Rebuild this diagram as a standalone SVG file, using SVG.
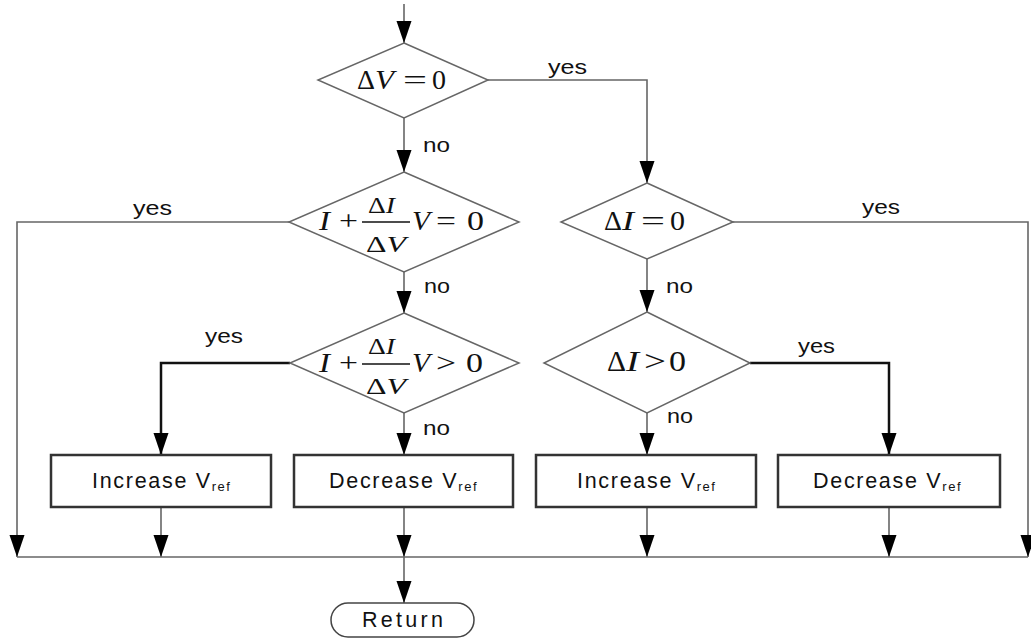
<svg xmlns="http://www.w3.org/2000/svg" width="1031" height="638" viewBox="0 0 1031 638">
<style>
.dia{fill:#fff;stroke:#666;stroke-width:1.5}
.box{fill:#fff;stroke:#333;stroke-width:2.5}
.ln{fill:none;stroke:#666;stroke-width:1.6}
.thk{fill:none;stroke:#111;stroke-width:2.5}
.lbl{font-family:"Liberation Sans",Arial,sans-serif;font-size:20px;fill:#111}
.btx{font-family:"Liberation Sans",Arial,sans-serif;font-size:21.5px;fill:#111;letter-spacing:1.7px}
.sub{font-size:13px;letter-spacing:1.5px}
.m{font-family:"Liberation Serif","Times New Roman",serif;font-size:27px;fill:#111}
.mi{font-style:italic}
.ms{font-size:23px}
.mb{font-size:29px}
</style>
<defs>
<marker id="ah" markerUnits="userSpaceOnUse" markerWidth="23" markerHeight="16" refX="22" refY="8" orient="auto">
<path d="M0,0.5 L22,8 L0,15.5 z" fill="#000"/>
</marker>
</defs>

<g id="connectors">
<path class="ln" d="M404,4 V43" marker-end="url(#ah)"/>
<path class="ln" d="M404,118 V172" marker-end="url(#ah)"/>
<path class="ln" d="M488,80 H647 V183" marker-end="url(#ah)"/>
<path class="ln" d="M404,272 V313" marker-end="url(#ah)"/>
<path class="ln" d="M289,222 H17 V557" marker-end="url(#ah)"/>
<path class="ln" d="M733,222 H1028 V557" marker-end="url(#ah)"/>
<path class="ln" d="M647,259 V312" marker-end="url(#ah)"/>
<path class="ln" d="M404,413 V455" marker-end="url(#ah)"/>
<path class="thk" d="M290,363 H161 V455" marker-end="url(#ah)"/>
<path class="ln" d="M647,413 V455" marker-end="url(#ah)"/>
<path class="thk" d="M750,363 H889 V455" marker-end="url(#ah)"/>
<path class="ln" d="M161,507 V557" marker-end="url(#ah)" stroke="#999"/>
<path class="ln" d="M404,507 V557" marker-end="url(#ah)"/>
<path class="ln" d="M647,507 V557" marker-end="url(#ah)"/>
<path class="ln" d="M889,507 V557" marker-end="url(#ah)"/>
<path class="ln" d="M17,557 H1028"/>
<path class="ln" d="M404,557 V603" marker-end="url(#ah)"/>
<text class="lbl" x="548" y="74" textLength="39" lengthAdjust="spacingAndGlyphs">yes</text>
<text class="lbl" x="423" y="152" textLength="27" lengthAdjust="spacingAndGlyphs">no</text>
<text class="lbl" x="133" y="215" textLength="39" lengthAdjust="spacingAndGlyphs">yes</text>
<text class="lbl" x="862" y="214" textLength="38" lengthAdjust="spacingAndGlyphs">yes</text>
<text class="lbl" x="424" y="293" textLength="26" lengthAdjust="spacingAndGlyphs">no</text>
<text class="lbl" x="666" y="293" textLength="27" lengthAdjust="spacingAndGlyphs">no</text>
<text class="lbl" x="205" y="343" textLength="38" lengthAdjust="spacingAndGlyphs">yes</text>
<text class="lbl" x="798" y="353" textLength="37" lengthAdjust="spacingAndGlyphs">yes</text>
<text class="lbl" x="667" y="423" textLength="26" lengthAdjust="spacingAndGlyphs">no</text>
<text class="lbl" x="423" y="435" textLength="27" lengthAdjust="spacingAndGlyphs">no</text>
</g>

<g id="d1">
<polygon class="dia" points="404,43 488,80 404,118 318,80"/>
<text class="m" x="357" y="89" textLength="18" lengthAdjust="spacingAndGlyphs">Δ</text>
<text class="m mi" x="375" y="89" textLength="19" lengthAdjust="spacingAndGlyphs">V</text>
<text class="m" x="403" y="89" textLength="24" lengthAdjust="spacingAndGlyphs">=</text>
<text class="m" x="432" y="89" textLength="14" lengthAdjust="spacingAndGlyphs">0</text>
</g>

<g id="d2">
<polygon class="dia" points="404,172 519,222 404,272 289,222"/>
<text class="m mi" x="319" y="230" textLength="11" lengthAdjust="spacingAndGlyphs">I</text>
<text class="m" x="339" y="230" textLength="19" lengthAdjust="spacingAndGlyphs">+</text>
<line x1="362" y1="222" x2="410" y2="222" stroke="#111" stroke-width="1.5"/>
<text class="m ms" x="368" y="213" textLength="27" lengthAdjust="spacingAndGlyphs">Δ<tspan class="mi">I</tspan></text>
<text class="m ms" x="366" y="252" textLength="40" lengthAdjust="spacingAndGlyphs">Δ<tspan class="mi">V</tspan></text>
<text class="m mi" x="412" y="230" textLength="18" lengthAdjust="spacingAndGlyphs">V</text>
<text class="m" x="436" y="230" textLength="20" lengthAdjust="spacingAndGlyphs">=</text>
<text class="m" x="467" y="230" textLength="17" lengthAdjust="spacingAndGlyphs">0</text>
</g>

<g id="d3">
<polygon class="dia" points="404,313 519,363 404,413 290,363"/>
<text class="m mi" x="319" y="372" textLength="11" lengthAdjust="spacingAndGlyphs">I</text>
<text class="m" x="339" y="372" textLength="19" lengthAdjust="spacingAndGlyphs">+</text>
<line x1="362" y1="364" x2="410" y2="364" stroke="#111" stroke-width="1.5"/>
<text class="m ms" x="368" y="354" textLength="27" lengthAdjust="spacingAndGlyphs">Δ<tspan class="mi">I</tspan></text>
<text class="m ms" x="366" y="394" textLength="40" lengthAdjust="spacingAndGlyphs">Δ<tspan class="mi">V</tspan></text>
<text class="m mi" x="412" y="372" textLength="18" lengthAdjust="spacingAndGlyphs">V</text>
<text class="m" x="436" y="372" textLength="20" lengthAdjust="spacingAndGlyphs">&gt;</text>
<text class="m" x="466" y="372" textLength="17" lengthAdjust="spacingAndGlyphs">0</text>
</g>

<g id="d4">
<polygon class="dia" points="647,183 733,222 647,259 561,222"/>
<text class="m" x="604" y="230" textLength="18" lengthAdjust="spacingAndGlyphs">Δ</text>
<text class="m mi" x="622" y="230" textLength="12" lengthAdjust="spacingAndGlyphs">I</text>
<text class="m" x="641" y="230" textLength="24" lengthAdjust="spacingAndGlyphs">=</text>
<text class="m" x="670" y="230" textLength="15" lengthAdjust="spacingAndGlyphs">0</text>
</g>

<g id="d5">
<polygon class="dia" points="647,312 750,363 647,413 544,363"/>
<text class="m mb" x="607" y="371" textLength="19" lengthAdjust="spacingAndGlyphs">Δ</text>
<text class="m mb mi" x="626" y="371" textLength="13" lengthAdjust="spacingAndGlyphs">I</text>
<text class="m mb" x="644" y="371" textLength="22" lengthAdjust="spacingAndGlyphs">&gt;</text>
<text class="m mb" x="669" y="371" textLength="17" lengthAdjust="spacingAndGlyphs">0</text>
</g>

<g id="b1">
<rect class="box" x="51" y="455" width="220" height="52"/>
<text class="btx" x="92" y="488">Increase V<tspan class="sub" dy="3">ref</tspan></text>
</g>
<g id="b2">
<rect class="box" x="294" y="455" width="219" height="52"/>
<text class="btx" x="329" y="488">Decrease V<tspan class="sub" dy="3">ref</tspan></text>
</g>
<g id="b3">
<rect class="box" x="536" y="455" width="220" height="52"/>
<text class="btx" x="577" y="488">Increase V<tspan class="sub" dy="3">ref</tspan></text>
</g>
<g id="b4">
<rect class="box" x="778" y="455" width="222" height="52"/>
<text class="btx" x="813" y="488">Decrease V<tspan class="sub" dy="3">ref</tspan></text>
</g>

<g id="ret">
<rect x="331" y="603" width="143" height="34" rx="17" ry="17" fill="#fff" stroke="#444" stroke-width="1.5"/>
<text class="btx" x="362" y="627" style="letter-spacing:3.3px">Return</text>
</g>
</svg>
